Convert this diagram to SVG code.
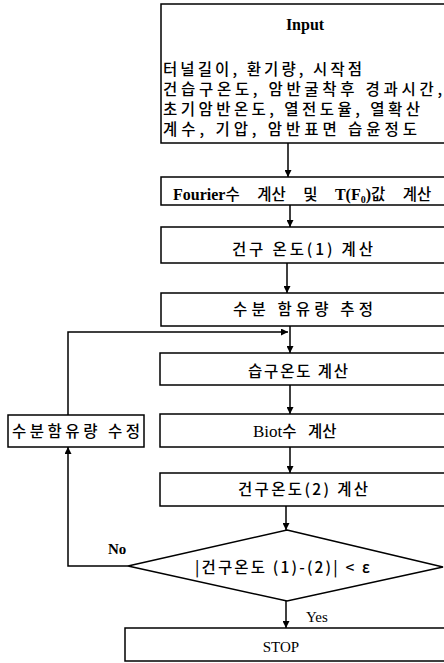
<svg xmlns="http://www.w3.org/2000/svg" width="444" height="663" viewBox="0 0 444 663">
<defs>
<marker id="ah" viewBox="0 0 10 10" refX="10" refY="5" markerWidth="7" markerHeight="7" orient="auto" markerUnits="userSpaceOnUse">
<path d="M0,0 L10,5 L0,10 z" fill="#000"/>
</marker>
<style>
.box{fill:#fff;stroke:#000;stroke-width:1.5}
.ko{font-family:"Noto Sans CJK KR","Noto Sans",sans-serif;font-size:15.5px;font-weight:500;fill:#000}
.la{font-family:"Liberation Serif","Noto Sans CJK KR",serif;font-size:15px;font-weight:bold;fill:#000}
.ln{fill:none;stroke:#000;stroke-width:1.5}
</style>
</defs>
<rect width="444" height="663" fill="#fff"/>
<g id="connectors">
<line class="ln" x1="288" y1="143" x2="288" y2="177" marker-end="url(#ah)"/>
<line class="ln" x1="290" y1="205" x2="290" y2="227" marker-end="url(#ah)"/>
<line class="ln" x1="287" y1="263" x2="287" y2="293" marker-end="url(#ah)"/>
<line class="ln" x1="290" y1="326" x2="290" y2="353" marker-end="url(#ah)"/>
<polyline class="ln" points="68,415 68,332 288,332" marker-end="url(#ah)"/>
<line class="ln" x1="290" y1="385" x2="290" y2="414" marker-end="url(#ah)"/>
<line class="ln" x1="290" y1="447" x2="290" y2="473" marker-end="url(#ah)"/>
<line class="ln" x1="286" y1="506" x2="286" y2="530" marker-end="url(#ah)"/>
<polyline class="ln" points="128,566 68,566 68,447" marker-end="url(#ah)"/>
<line class="ln" x1="286" y1="601" x2="286" y2="628" marker-end="url(#ah)"/>
<text class="la" x="108" y="554">No</text>
<text class="la" x="306" y="622" style="font-weight:normal">Yes</text>
</g>
<g id="input">
<rect class="box" x="161" y="4" width="290" height="139"/>
<text class="la" x="305" y="30" text-anchor="middle" style="font-size:16px">Input</text>
<text class="ko" x="163" y="75" textLength="199" lengthAdjust="spacing">터널길이, 환기량, 시작점</text>
<text class="ko" x="163" y="95" textLength="279" lengthAdjust="spacing">건습구온도, 암반굴착후 경과시간,</text>
<text class="ko" x="163" y="115" textLength="257" lengthAdjust="spacing">초기암반온도, 열전도율, 열확산</text>
<text class="ko" x="163" y="135" textLength="254" lengthAdjust="spacing">계수, 기압, 암반표면 습윤정도</text>
</g>
<g id="fourier">
<rect class="box" x="161" y="177" width="290" height="28"/>
<text class="la" x="173" y="200" style="font-size:16px;word-spacing:14px">Fourier<tspan class="ko">수 계산 및 </tspan>T(F<tspan font-size="10" dy="3">0</tspan><tspan dy="-3">)</tspan><tspan class="ko">값 계산</tspan></text>
</g>
<g id="drybulb1">
<rect class="box" x="161" y="227" width="290" height="36"/>
<text class="ko" x="232" y="255" textLength="141" lengthAdjust="spacing">건구 온도(1) 계산</text>
</g>
<g id="moisture">
<rect class="box" x="161" y="293" width="290" height="33"/>
<text class="ko" x="233" y="315" textLength="140" lengthAdjust="spacing">수분 함유량 추정</text>
</g>
<g id="wetbulb">
<rect class="box" x="160" y="353" width="290" height="32"/>
<text class="ko" x="248" y="377" textLength="100" lengthAdjust="spacing">습구온도 계산</text>
</g>
<g id="biot">
<rect class="box" x="160" y="414" width="290" height="33"/>
<text class="la" x="253" y="437" style="font-weight:normal;font-size:17px;word-spacing:8px">Biot<tspan class="ko">수 계산</tspan></text>
</g>
<g id="correct">
<rect class="box" x="8" y="415" width="136" height="32"/>
<text class="ko" x="12" y="437" textLength="128" lengthAdjust="spacing">수분함유량 수정</text>
</g>
<g id="drybulb2">
<rect class="box" x="160" y="473" width="290" height="33"/>
<text class="ko" x="238" y="495" textLength="130" lengthAdjust="spacing">건구온도(2) 계산</text>
</g>
<g id="decision">
<polygon class="box" points="287,530 443,567 287,601 128,566"/>
<text class="ko" x="195" y="573" textLength="175" lengthAdjust="spacing">|건구온도 (1)-(2)| &lt; ε</text>
</g>
<g id="stop">
<rect class="box" x="125" y="628" width="330" height="33"/>
<text class="la" x="281" y="652" text-anchor="middle" style="font-weight:normal">STOP</text>
</g>
</svg>
